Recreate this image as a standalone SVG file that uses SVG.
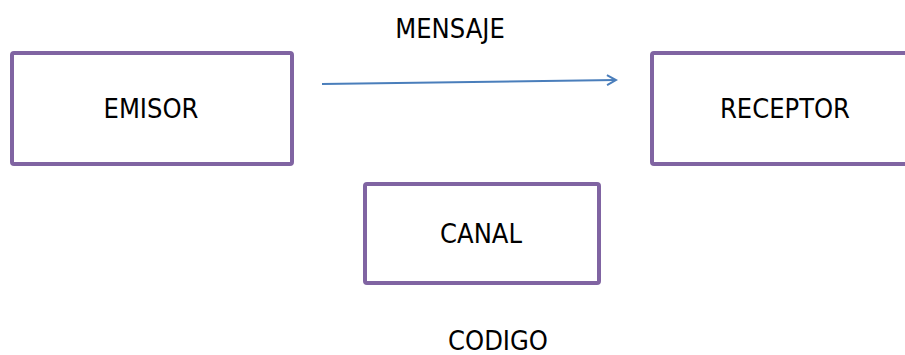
<svg xmlns="http://www.w3.org/2000/svg" width="905" height="355" viewBox="0 0 905 355">
<style>
.box{fill:#fff;stroke:#8064A2;stroke-width:4;}
.lbl{font-family:"DejaVu Sans Condensed","DejaVu Sans",sans-serif;font-size:27px;fill:#000;text-anchor:middle;}
.conn{stroke:#4A7EBB;stroke-width:2;fill:none;}
</style>
<defs>
<marker id="arr" markerWidth="12" markerHeight="12" refX="10" refY="6" orient="auto" markerUnits="userSpaceOnUse">
<path d="M1,1 L10,6 L1,11" fill="none" stroke="#4A7EBB" stroke-width="2"/>
</marker>
</defs>
<rect width="905" height="355" fill="#fff"/>
<g id="emisor"><rect class="box" x="12" y="53" width="280" height="111" rx="2"/><text class="lbl" x="151" y="118">EMISOR</text></g>
<g id="receptor"><rect class="box" x="652" y="53" width="260" height="111" rx="2"/><text class="lbl" x="785" y="118">RECEPTOR</text></g>
<g id="canal"><rect class="box" x="365" y="184" width="234" height="99" rx="2"/><text class="lbl" x="481" y="243">CANAL</text></g>
<g id="mensaje"><text class="lbl" x="450" y="38">MENSAJE</text></g>
<g id="codigo"><text class="lbl" x="498" y="350">CODIGO</text></g>
<g id="connectors"><path class="conn" d="M322,84 L616,80" marker-end="url(#arr)"/></g>
</svg>
